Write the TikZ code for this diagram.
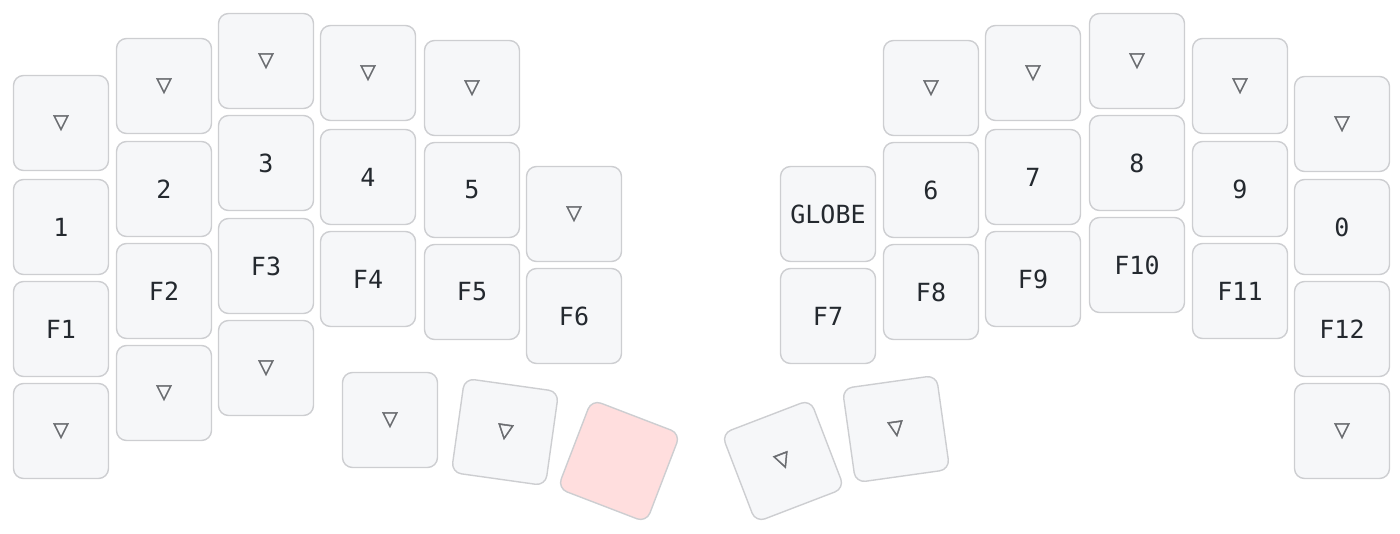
\documentclass[tikz,border=0pt]{standalone}
\usepackage{fontspec}
\setmonofont{DejaVu Sans Mono}
\newfontfamily\symfont[FakeBold=2.5]{DejaVu Sans}
\definecolor{keyfill}{HTML}{F6F7F9}
\definecolor{keyline}{HTML}{CDCED1}
\definecolor{keytext}{HTML}{24292F}
\definecolor{keytri}{HTML}{6A6C70}
\definecolor{heldfill}{HTML}{FFDEDE}
\newcommand\tri{{\symfont\fontsize{20}{22}\selectfont\color{keytri}\char"25BD}}
\begin{document}
\begin{tikzpicture}[x=1pt,y=-1pt]
      \useasboundingbox (0,0) rectangle (1400,533);

      \begin{scope}[every node/.style={rectangle,draw=keyline,line width=1.4pt,
          fill=keyfill,rounded corners=10pt,minimum size=95pt,inner sep=0pt,
          text=keytext,font=\ttfamily\fontsize{25}{28}\selectfont}]
        % left half
        \node (l0a) at (61,123)  {\tri};
        \node (l0b) at (61,227)  {1};
        \node (l0c) at (61,329)  {F1};
        \node (l0d) at (61,431)  {\tri};
        \node (l1a) at (164,86)  {\tri};
        \node (l1b) at (164,189) {2};
        \node (l1c) at (164,291) {F2};
        \node (l1d) at (164,393) {\tri};
        \node (l2a) at (266,61)  {\tri};
        \node (l2b) at (266,163) {3};
        \node (l2c) at (266,266) {F3};
        \node (l2d) at (266,368) {\tri};
        \node (l3a) at (368,73)  {\tri};
        \node (l3b) at (368,177) {4};
        \node (l3c) at (368,279) {F4};
        \node (l4a) at (472,88)  {\tri};
        \node (l4b) at (472,190) {5};
        \node (l4c) at (472,292) {F5};
        \node (l5a) at (574,214) {\tri};
        \node (l5b) at (574,316) {F6};
        % left thumbs
        \node (lt1) at (390,420) {\tri};
        \node[rotate=-8] (lt2) at (505,432) {\tri};
        \node[rotate=-21,fill=heldfill] (lt3) at (619,461) {};

        % right half
        \node (r0a) at (828,214)  {GLOBE};
        \node (r0b) at (828,316)  {F7};
        \node (r1a) at (931,88)   {\tri};
        \node (r1b) at (931,190)  {6};
        \node (r1c) at (931,292)  {F8};
        \node (r2a) at (1033,73)  {\tri};
        \node (r2b) at (1033,177) {7};
        \node (r2c) at (1033,279) {F9};
        \node (r3a) at (1137,61)  {\tri};
        \node (r3b) at (1137,163) {8};
        \node (r3c) at (1137,265) {F10};
        \node (r4a) at (1240,86)  {\tri};
        \node (r4b) at (1240,189) {9};
        \node (r4c) at (1240,291) {F11};
        \node (r5a) at (1342,124) {\tri};
        \node (r5b) at (1342,227) {0};
        \node (r5c) at (1342,329) {F12};
        \node (r5d) at (1342,431) {\tri};
        % right thumbs
        \node[rotate=21] (rt1) at (783,461) {\tri};
        \node[rotate=8]  (rt2) at (896,429) {\tri};
      \end{scope}

    \end{tikzpicture}
\end{document}
